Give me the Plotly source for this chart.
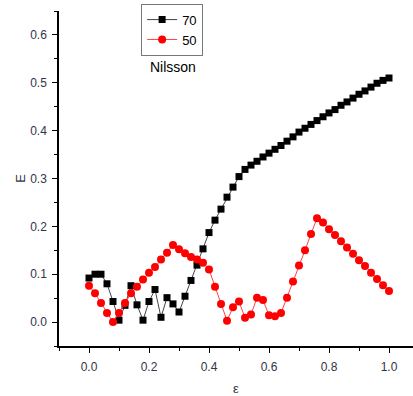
import plotly.graph_objects as go

eps = [round(i * 0.02, 2) for i in range(51)]

e70 = [0.092, 0.100, 0.100, 0.080, 0.043, 0.004, 0.035, 0.076, 0.036, 0.004,
       0.043, 0.068, 0.010, 0.051, 0.038, 0.021, 0.054, 0.087, 0.119, 0.153,
       0.187, 0.213, 0.236, 0.261, 0.282, 0.304, 0.319, 0.328, 0.336, 0.345,
       0.353, 0.361, 0.369, 0.378, 0.387, 0.397, 0.405, 0.413, 0.421, 0.429,
       0.437, 0.444, 0.453, 0.460, 0.468, 0.476, 0.483, 0.491, 0.499, 0.505,
       0.510]

e50 = [0.076, 0.060, 0.040, 0.019, 0.000, 0.019, 0.040, 0.060, 0.074, 0.089,
       0.103, 0.115, 0.131, 0.145, 0.161, 0.152, 0.144, 0.136, 0.131, 0.124,
       0.110, 0.074, 0.038, 0.003, 0.031, 0.043, 0.009, 0.016, 0.051, 0.046,
       0.014, 0.012, 0.019, 0.051, 0.085, 0.118, 0.150, 0.184, 0.217, 0.208,
       0.194, 0.182, 0.169, 0.156, 0.143, 0.129, 0.117, 0.103, 0.090, 0.077,
       0.065]

x_ticks = [0.0, 0.2, 0.4, 0.6, 0.8, 1.0]
y_ticks = [0.0, 0.1, 0.2, 0.3, 0.4, 0.5, 0.6]

fig = go.Figure()
fig.add_trace(go.Scatter(x=eps, y=e70, name="70", mode="lines+markers",
                         line=dict(color="#444444", width=1),
                         marker=dict(symbol="square", size=7, color="black")))
fig.add_trace(go.Scatter(x=eps, y=e50, name="50", mode="lines+markers",
                         line=dict(color="#ff4444", width=1),
                         marker=dict(symbol="circle", size=8, color="#ff0000")))

axis_font = dict(family="Arial, Liberation Sans, sans-serif", size=12, color="#333344")

fig.update_layout(
    width=413, height=396,
    margin=dict(l=59, r=0, t=11, b=50),
    paper_bgcolor="white", plot_bgcolor="white",
    font=dict(family="Arial, Liberation Sans, sans-serif", color="black"),
    showlegend=True,
    legend=dict(x=0.232, y=1.022, xanchor="left", yanchor="top",
                bordercolor="#777777", borderwidth=1, bgcolor="white",
                font=dict(size=13, color="black"),
                tracegroupgap=0, itemwidth=30),
    xaxis=dict(range=[-0.1, 1.08], tickvals=x_ticks,
               ticktext=[f"{v:.1f}" for v in x_ticks],
               showline=True, linecolor="black", linewidth=1.5,
               ticks="outside", ticklen=5, tickcolor="black",
               minor=dict(ticks="outside", ticklen=3, dtick=0.1, tick0=0, tickcolor="black"),
               showgrid=False, zeroline=False, tickfont=axis_font,
               ticklabelstandoff=4,
               title=dict(text="ε", font=dict(size=13, color="#333344"), standoff=12)),
    yaxis=dict(range=[-0.05, 0.65], tickvals=y_ticks,
               ticktext=[f"{v:.1f}" for v in y_ticks],
               showline=True, linecolor="black", linewidth=1.5,
               ticks="outside", ticklen=5, tickcolor="black",
               minor=dict(ticks="outside", ticklen=3, dtick=0.05, tick0=0, tickcolor="black"),
               showgrid=False, zeroline=False, tickfont=axis_font,
               ticklabelstandoff=3,
               title=dict(text="E", font=dict(size=13, color="#333344"), standoff=2)),
    annotations=[dict(x=0.28, y=0.532, xref="x", yref="y", text="Nilsson",
                      showarrow=False, font=dict(size=14, color="black"))],
)

fig.write_html("out.html")
